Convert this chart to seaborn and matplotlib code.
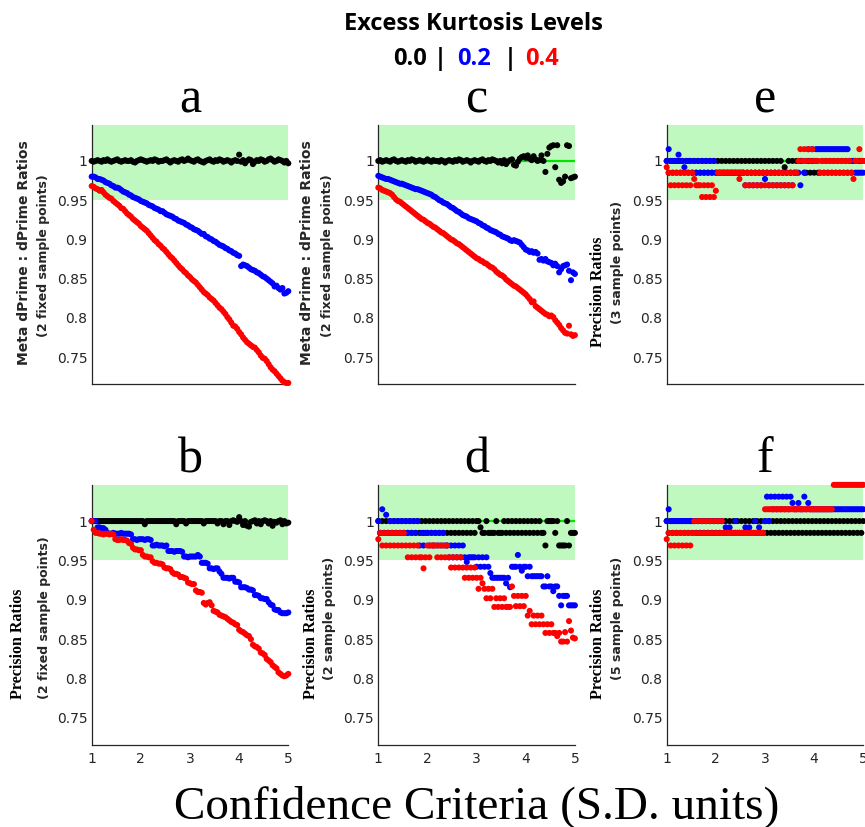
import numpy as np
import pandas as pd
import matplotlib
matplotlib.use("Agg")
import matplotlib.pyplot as plt
import seaborn as sns

# Confidence criterion grid (S.D. units)
criteria = np.round(np.arange(1.0, 5.0001, 0.04), 2)

kurtosis_levels = ["0.0", "0.2", "0.4"]
level_colors = {"0.0": "#000000", "0.2": "#0000ff", "0.4": "#ff0000"}

# ---- a: meta dPrime : dPrime ratios, 2 fixed sample points (values x1000)
a_black = [1000, 999, 1000, 1001, 1000, 999, 1001, 1000, 1002, 1000,
           999, 1000, 1001, 1002, 1000, 999, 1000, 1001, 1000, 1000,
           1001, 999, 998, 1000, 1001, 1002, 1001, 1000, 999, 1000,
           1001, 1000, 1002, 1001, 999, 1000, 1000, 1001, 1002, 1000,
           998, 1000, 1001, 1000, 999, 1001, 1002, 1000, 1001, 1003,
           1001, 1000, 999, 1001, 1002, 1000, 999, 998, 1000, 1001,
           1002, 1000, 999, 1001, 1000, 1002, 1001, 999, 1000, 1001,
           1000, 998, 1000, 1001, 1000, 1008, 999, 1001, 997, 1000,
           1002, 1001, 996, 999, 1001, 1000, 1002, 1001, 999, 1000,
           1002, 1003, 1001, 999, 1000, 1002, 1001, 1000, 998, 1000,
           997]
a_blue = [980, 980, 979, 977, 977, 976, 975, 973, 972, 971,
          969, 968, 966, 966, 965, 963, 961, 960, 959, 957,
          956, 954, 953, 952, 951, 949, 948, 947, 946, 944,
          943, 942, 940, 939, 938, 936, 936, 934, 932, 931,
          930, 929, 927, 926, 924, 923, 922, 921, 919, 918,
          916, 915, 913, 912, 911, 909, 907, 907, 904, 903,
          901, 900, 898, 897, 895, 893, 892, 891, 889, 888,
          886, 885, 883, 882, 880, 879, 866, 868, 867, 866,
          864, 862, 861, 860, 858, 857, 855, 853, 852, 850,
          848, 846, 844, 840, 841, 838, 836, 838, 831, 832,
          834]
a_red = [968, 967, 965, 964, 962, 963, 960, 957, 955, 953,
         952, 949, 947, 945, 943, 940, 939, 936, 933, 931,
         929, 926, 924, 922, 920, 917, 915, 913, 911, 908,
         905, 902, 899, 897, 894, 892, 889, 887, 884, 881,
         878, 876, 873, 870, 867, 864, 862, 859, 857, 854,
         852, 849, 847, 845, 842, 839, 836, 833, 831, 829,
         826, 824, 822, 819, 816, 813, 811, 808, 805, 801,
         798, 794, 790, 789, 786, 782, 779, 775, 772, 769,
         767, 765, 763, 762, 759, 756, 752, 749, 748, 745,
         741, 737, 734, 732, 729, 726, 723, 720, 718, 717,
         717]

# ---- b: precision ratios, 2 fixed sample points
b_black = [1000, 1000, 1000, 1000, 1000, 1000, 1000, 1000, 1000, 1000,
           1000, 1000, 1000, 1000, 1000, 1000, 1000, 1000, 1000, 1000,
           1000, 1000, 1000, 1000, 1000, 1000, 1000, 996, 1000, 1000,
           1000, 1000, 1000, 1000, 1000, 1000, 1000, 1000, 1000, 1000,
           1000, 1000, 1000, 996, 1000, 1000, 1000, 1000, 997, 1000,
           1000, 1000, 1000, 1000, 1000, 1000, 1000, 997, 1000, 1000,
           1000, 1000, 1000, 1000, 997, 1000, 1000, 996, 1000, 1000,
           995, 1000, 1001, 1000, 999, 1005, 1000, 995, 1000, 994,
           993, 999, 1000, 1001, 997, 1000, 996, 1000, 1001, 1000,
           997, 1000, 994, 999, 998, 1000, 1001, 996, 1000, 997,
           998]
b_blue = [1000, 1000, 1000, 992, 992, 991, 991, 989, 985, 984,
          984, 985, 984, 984, 984, 985, 984, 984, 984, 984,
          983, 977, 977, 976, 977, 977, 977, 976, 977, 977,
          976, 969, 969, 970, 969, 969, 969, 968, 969, 962,
          962, 962, 961, 962, 962, 962, 961, 955, 955, 954,
          955, 955, 955, 955, 957, 955, 947, 947, 947, 946,
          940, 940, 939, 940, 940, 936, 933, 928, 928, 928,
          927, 928, 928, 923, 923, 922, 916, 916, 916, 915,
          913, 913, 912, 906, 906, 905, 902, 902, 901, 901,
          897, 894, 893, 888, 887, 887, 884, 883, 883, 883,
          884]
b_red = [1000, 989, 985, 985, 984, 984, 983, 984, 984, 983,
         984, 983, 977, 976, 976, 977, 976, 976, 975, 972,
         971, 966, 964, 964, 963, 963, 957, 955, 955, 954,
         954, 949, 947, 947, 946, 946, 945, 941, 940, 940,
         939, 935, 933, 933, 932, 929, 929, 928, 927, 922,
         921, 920, 920, 912, 910, 910, 909, 896, 894, 896,
         897, 893, 886, 885, 884, 881, 880, 879, 878, 876,
         874, 872, 871, 869, 868, 862, 860, 859, 857, 855,
         854, 850, 843, 841, 840, 838, 833, 832, 830, 825,
         823, 821, 817, 815, 813, 808, 806, 804, 803, 804,
         806]

# ---- c: meta dPrime : dPrime ratios, 2 fixed sample points
c_black = [1000, 1001, 999, 1000, 1001, 1000, 999, 1001, 1002, 1000,
           999, 1000, 1001, 1000, 999, 1001, 1000, 1002, 1001, 999,
           1000, 1001, 1000, 999, 1000, 1002, 1000, 999, 1001, 1000,
           1000, 999, 1001, 1000, 998, 1000, 1001, 1000, 999, 1001,
           1000, 1002, 1001, 999, 1000, 1001, 1000, 998, 1000, 1001,
           1000, 999, 1001, 1002, 1000, 999, 1001, 1000, 1002, 1001,
           1000, 998, 1000, 997, 1001, 996, 999, 1001, 1002, 995,
           994, 999, 1003, 1005, 1006, 1004, 1007, 1003, 1001, 1006,
           1002, 1000, 1001, 1007, 1000, 986, 1009, 1017, 1019, 1020,
           992, 1020, 976, 972, 974, 980, 1020, 1019, 978, 979,
           980]
c_blue = [981, 980, 979, 978, 977, 977, 976, 975, 974, 973,
          972, 971, 971, 970, 969, 968, 967, 966, 965, 964,
          964, 963, 962, 961, 960, 959, 958, 957, 955, 954,
          952, 950, 949, 947, 946, 945, 943, 941, 940, 938,
          936, 935, 933, 931, 930, 929, 927, 926, 925, 924,
          923, 921, 920, 918, 917, 915, 914, 912, 911, 910,
          909, 907, 906, 904, 903, 902, 901, 899, 898, 899,
          898, 897, 896, 893, 890, 887, 886, 884, 885, 883,
          884, 882, 874, 875, 873, 875, 872, 871, 870, 867,
          869, 866, 858, 862, 866, 867, 868, 860, 848, 858,
          856]
c_red = [966, 965, 963, 962, 961, 960, 959, 957, 954, 951,
         949, 948, 946, 944, 942, 940, 938, 936, 934, 932,
         930, 928, 926, 925, 923, 921, 920, 918, 916, 915,
         913, 911, 909, 908, 906, 904, 902, 900, 899, 897,
         895, 894, 892, 890, 888, 886, 884, 882, 880, 878,
         876, 875, 873, 872, 870, 869, 867, 865, 864, 862,
         859, 857, 855, 854, 852, 849, 847, 845, 843, 841,
         840, 838, 836, 834, 832, 830, 827, 824, 820, 821,
         815, 813, 811, 809, 807, 805, 804, 802, 803, 801,
         797, 794, 791, 787, 784, 781, 780, 790, 779, 777,
         778]

# ---- d: precision ratios, 2 sample points
d_black = [1000, 985, 1000, 985, 1000, 985, 1000, 985, 1000, 985,
           1000, 985, 1000, 985, 1000, 985, 1000, 985, 1000, 985,
           1000, 985, 1000, 985, 1000, 985, 1000, 985, 1000, 985,
           1000, 985, 1000, 985, 1000, 985, 1000, 985, 1000, 985,
           1000, 985, 1000, 985, 1000, 985, 1000, 985, 1000, 985,
           1000, 1000, 992, 985, 985, 1000, 985, 985, 985, 985,
           1000, 985, 985, 985, 1000, 985, 1000, 985, 1000, 985,
           1000, 985, 1000, 985, 1000, 985, 1000, 985, 1000, 985,
           1000, 985, 1000, 985, 985, 969, 1000, 1000, 1000, 1000,
           985, 1000, 969, 969, 969, 969, 1000, 969, 985, 985,
           985]
d_blue = [1000, 985, 1015, 985, 1008, 985, 1000, 985, 1000, 985,
          1000, 985, 1000, 985, 1000, 985, 1000, 985, 1000, 985,
          1000, 969, 985, 969, 985, 985, 969, 985, 969, 985,
          969, 985, 969, 985, 969, 969, 954, 969, 954, 969,
          954, 969, 954, 969, 954, 948, 954, 954, 954, 954,
          942, 954, 942, 954, 942, 954, 942, 934, 928, 928,
          928, 928, 928, 928, 928, 921, 928, 916, 942, 942,
          942, 957, 942, 937, 942, 942, 930, 942, 930, 930,
          930, 930, 930, 930, 917, 917, 930, 917, 917, 911,
          917, 917, 905, 893, 905, 905, 905, 893, 893, 893,
          893]
d_red = [977, 985, 969, 985, 969, 985, 969, 985, 969, 985,
         969, 985, 969, 985, 969, 954, 969, 954, 969, 954,
         969, 954, 954, 940, 954, 969, 954, 969, 969, 969,
         954, 969, 954, 969, 954, 969, 954, 941, 954, 941,
         954, 941, 954, 941, 928, 941, 928, 941, 928, 941,
         928, 914, 928, 921, 914, 902, 914, 902, 914, 891,
         902, 891, 902, 891, 902, 891, 891, 891, 917, 905,
         892, 905, 892, 905, 892, 905, 880, 886, 869, 880,
         869, 880, 869, 880, 869, 858, 869, 858, 869, 858,
         858, 854, 858, 847, 847, 859, 847, 873, 861, 852,
         851]

# ---- e: precision ratios, 3 sample points
e_black = [1000, 985, 1000, 985, 1000, 985, 1000, 985, 1000, 985,
           1000, 985, 1000, 985, 1000, 985, 1000, 985, 1000, 985,
           1000, 985, 1000, 985, 1000, 985, 1000, 985, 1000, 985,
           1000, 985, 1000, 985, 1000, 985, 1000, 985, 1000, 985,
           1000, 985, 1000, 985, 1000, 985, 1000, 985, 1000, 985,
           1000, 985, 1000, 985, 1000, 985, 1000, 985, 1000, 985,
           992, 985, 1000, 985, 1000, 985, 1000, 1000, 1000, 1000,
           985, 985, 1000, 985, 1000, 985, 1000, 985, 985, 1000,
           985, 1000, 985, 1000, 985, 1000, 985, 1000, 985, 1000,
           985, 1000, 985, 1000, 985, 1000, 1000, 1000, 1000, 1000,
           1000]
e_blue = [1000, 1015, 1000, 1000, 1000, 1000, 1008, 1000, 1000, 992,
          1000, 1000, 1000, 985, 1000, 985, 1000, 985, 1000, 985,
          1000, 985, 1000, 985, 1000, 985, 985, 985, 985, 985,
          985, 985, 985, 985, 985, 985, 985, 985, 985, 985,
          969, 985, 969, 985, 969, 985, 969, 985, 969, 985,
          977, 985, 969, 985, 969, 985, 969, 985, 969, 985,
          969, 985, 969, 985, 969, 985, 985, 985, 969, 1000,
          985, 1000, 1015, 1000, 1015, 1000, 1015, 1015, 1015, 1015,
          1015, 1015, 1015, 1015, 1015, 1015, 1015, 1015, 1015, 1015,
          1015, 1015, 1015, 1000, 1000, 1000, 985, 985, 985, 985,
          985]
e_red = [992, 985, 969, 985, 969, 985, 969, 985, 969, 985,
         969, 985, 969, 985, 977, 969, 969, 969, 954, 969,
         954, 969, 954, 969, 954, 962, 985, 985, 985, 985,
         985, 985, 985, 985, 985, 985, 985, 977, 985, 985,
         969, 985, 969, 985, 969, 985, 969, 985, 969, 985,
         969, 985, 969, 985, 969, 985, 969, 985, 969, 985,
         969, 985, 969, 985, 969, 985, 985, 1000, 1015, 1000,
         1015, 1000, 1015, 1000, 1015, 1000, 1000, 1000, 985, 1000,
         985, 1000, 985, 1000, 985, 1000, 985, 1000, 985, 1000,
         985, 1000, 985, 1000, 985, 977, 1000, 1000, 1015, 1000,
         1000]

# ---- f: precision ratios, 5 sample points
f_black = [1000, 985, 1000, 985, 1000, 985, 1000, 985, 1000, 985,
           1000, 985, 1000, 985, 1000, 985, 1000, 985, 1000, 985,
           1000, 985, 1000, 985, 1000, 985, 1000, 985, 1000, 985,
           1000, 985, 1000, 985, 1000, 985, 1000, 985, 1000, 985,
           1000, 985, 1000, 985, 1000, 985, 1000, 985, 1000, 985,
           1000, 985, 1000, 985, 1000, 985, 1000, 985, 1000, 985,
           1000, 985, 1000, 985, 1000, 985, 1000, 985, 1000, 985,
           1000, 985, 1000, 985, 1000, 985, 1000, 985, 1000, 985,
           1000, 985, 1000, 985, 1000, 985, 1000, 985, 1000, 985,
           1000, 985, 1000, 985, 1000, 985, 1000, 985, 1000, 985,
           1000]
f_blue = [1000, 1015, 1000, 1000, 1000, 1000, 1000, 1000, 1000, 1000,
          1000, 1000, 1000, 1000, 1000, 985, 1000, 985, 1000, 985,
          1000, 985, 1000, 985, 1000, 985, 1000, 985, 1000, 985,
          992, 985, 992, 985, 985, 1000, 985, 985, 985, 985,
          992, 985, 992, 985, 985, 1000, 985, 992, 985, 985,
          1000, 1031, 1000, 1031, 1015, 1031, 1015, 1031, 1015, 1031,
          1015, 1031, 1015, 1031, 1023, 1015, 1015, 1023, 1015, 1015,
          1031, 1015, 1023, 1015, 1015, 1015, 1015, 1015, 1015, 1015,
          1015, 1015, 1015, 1015, 1015, 1015, 1015, 1015, 1015, 1015,
          1015, 1015, 1015, 1015, 1015, 1015, 1015, 1015, 1015, 1015,
          1015]
f_red = [977, 985, 969, 985, 969, 985, 969, 985, 969, 985,
         969, 985, 969, 985, 1000, 985, 1000, 985, 1000, 985,
         1000, 985, 1000, 985, 1000, 985, 1000, 985, 1000, 985,
         985, 985, 985, 985, 985, 985, 985, 985, 985, 985,
         985, 985, 985, 985, 985, 985, 985, 985, 985, 985,
         1015, 1015, 1015, 1015, 1015, 1015, 1015, 1015, 1015, 1015,
         1015, 1015, 1015, 1015, 1015, 1015, 1015, 1015, 1015, 1015,
         1015, 1015, 1015, 1015, 1015, 1015, 1015, 1015, 1015, 1015,
         1015, 1015, 1015, 1015, 1015, 1046, 1046, 1046, 1046, 1046,
         1046, 1046, 1046, 1046, 1046, 1046, 1046, 1046, 1046, 1046,
         1046]

ytick_values = [0.75, 0.8, 0.85, 0.9, 0.95, 1.0]
ytick_labels = ["0.75", "0.8", "0.85", "0.9", "0.95", "1"]
xtick_values = [1, 2, 3, 4, 5]
xtick_labels = ["1", "2", "3", "4", "5"]

panels = {
    "a": (a_black, a_blue, a_red),
    "b": (b_black, b_blue, b_red),
    "c": (c_black, c_blue, c_red),
    "d": (d_black, d_blue, d_red),
    "e": (e_black, e_blue, e_red),
    "f": (f_black, f_blue, f_red),
}

# ---------------------------------------------------------------- figure
W, H = 865, 827
sns.set_theme(style="white")
plt.rcParams["font.family"] = ["DejaVu Sans"]
fig = plt.figure(figsize=(W / 100, H / 100), dpi=100)

AX_W = 196.6
col_left = {"a": 91.7, "b": 91.7, "c": 378.3, "d": 378.3, "e": 666.7, "f": 666.7}
row_span = {"a": (125, 384), "c": (125, 384), "e": (125, 384),
            "b": (485, 745), "d": (485, 745), "f": (485, 745)}

INK = "#262626"
axes = {}
for key, series in panels.items():
    top, bottom = row_span[key]
    ax = fig.add_axes([col_left[key] / W, 1 - bottom / H, AX_W / W, (bottom - top) / H])
    axes[key] = ax
    ax.axhspan(0.95, 1.06, facecolor="#c0f9c0", lw=0, zorder=0)
    ax.axhline(1.0, color="#00e400", lw=1.6, zorder=1)

    df = pd.DataFrame({
        "criterion": np.tile(criteria, 3),
        "ratio": np.concatenate([np.asarray(s, float) for s in series]) / 1000.0,
        "kurtosis": np.repeat(kurtosis_levels, len(criteria)),
    })
    sns.scatterplot(data=df, x="criterion", y="ratio", hue="kurtosis",
                    hue_order=kurtosis_levels, palette=level_colors,
                    s=19, linewidth=0, edgecolor="none", legend=False,
                    ax=ax, zorder=3, clip_on=False)

    ax.set_xlim(1, 5)
    ax.set_ylim(0.7157, 1.0458)
    ax.set_xlabel("")
    ax.set_ylabel("")
    for side in ("top", "right"):
        ax.spines[side].set_visible(False)
    for side in ("left", "bottom"):
        ax.spines[side].set_color(INK)
        ax.spines[side].set_linewidth(0.9)
    ax.set_yticks(ytick_values)
    ax.set_yticklabels(ytick_labels)
    ax.tick_params(axis="both", direction="in", length=2.5, width=0.8,
                   color=INK, labelcolor=INK, labelsize=10, pad=3)
    if key in ("b", "d", "f"):
        ax.set_xticks(xtick_values)
        ax.set_xticklabels(xtick_labels)
        ax.tick_params(axis="x", pad=5)
    else:
        ax.set_xticks([])
    ax.set_title(key, fontfamily="Liberation Serif", fontsize=36, pad=9, color="black")


def vtext(x_px, y_px, text, **kw):
    fig.text(x_px / W, 1 - y_px / H, text, rotation=90, ha="center", va="center", **kw)


serif_bold = dict(fontfamily="Liberation Serif", fontweight="bold", fontsize=11.5, color="black")
sans_bold = dict(fontfamily="DejaVu Sans", fontweight="bold", fontsize=10, color=INK)
sans_sub = dict(fontfamily="DejaVu Sans", fontweight="bold", fontsize=9, color=INK)

vtext(24, 252.5, "Meta dPrime : dPrime Ratios", **sans_bold)
vtext(44, 256, "(2 fixed sample points)", **sans_sub)
vtext(18, 644, "Precision Ratios", **serif_bold)
vtext(45, 618, "(2 fixed sample points)", **sans_sub)
vtext(307, 252.5, "Meta dPrime : dPrime Ratios", **sans_bold)
vtext(328, 256, "(2 fixed sample points)", **sans_sub)
vtext(311, 644, "Precision Ratios", **serif_bold)
vtext(330, 618, "(2 sample points)", **sans_sub)
vtext(598, 292, "Precision Ratios", **serif_bold)
vtext(617, 262, "(3 sample points)", **sans_sub)
vtext(598, 644, "Precision Ratios", **serif_bold)
vtext(617, 618, "(5 sample points)", **sans_sub)

# heading with coloured kurtosis levels
head = dict(fontfamily="Open Sans", fontweight="bold", fontsize=17, ha="center", va="baseline")
fig.text(473 / W, 1 - 29.5 / H, "Excess Kurtosis Levels", color="black", **head)
for txt, xc, col in [("0.0", 410.5, "black"), ("|", 440, "black"), ("0.2", 474.5, "blue"),
                     ("|", 510.7, "black"), ("0.4", 542.4, "red")]:
    fig.text(xc / W, 1 - 65 / H, txt, color=col, **head)

fig.text(477 / W, 1 - 818 / H, "Confidence Criteria (S.D. units)",
         fontfamily="Liberation Serif", fontsize=34, ha="center", va="baseline", color="black")

fig.savefig("out.png", dpi=100)
